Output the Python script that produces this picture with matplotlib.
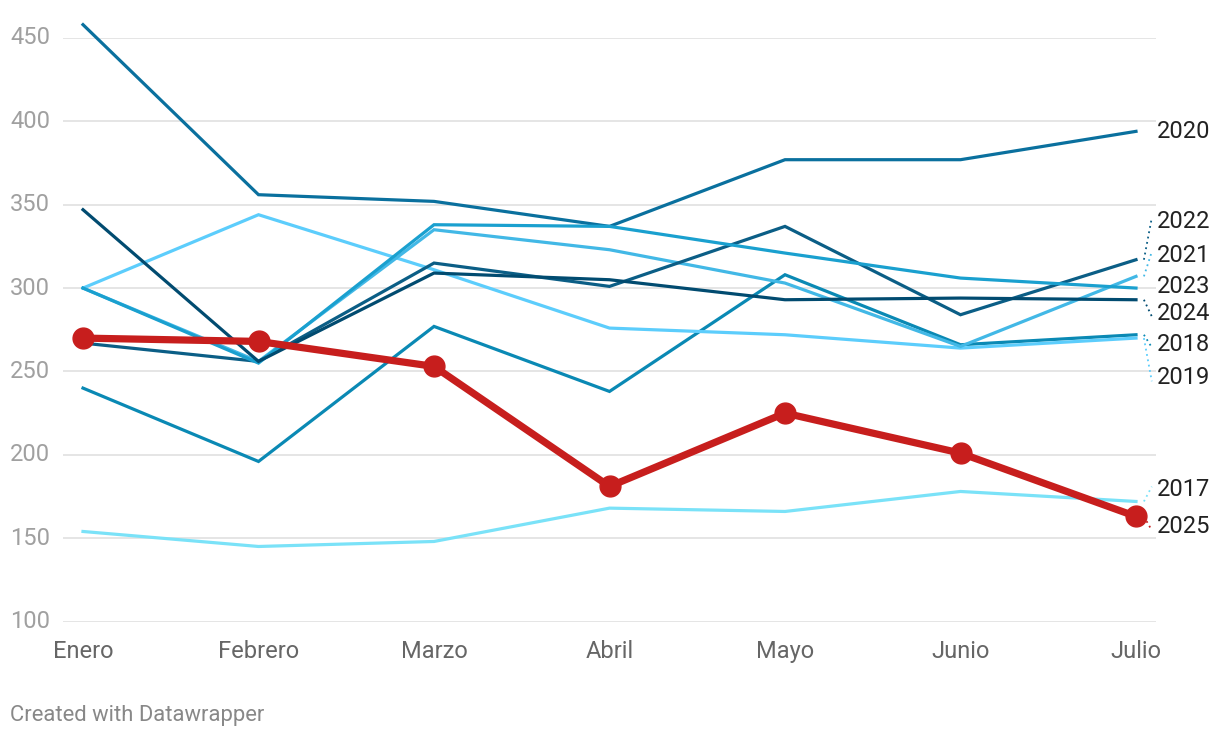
import matplotlib
matplotlib.use("Agg")
import matplotlib.pyplot as plt

# month categories and yearly series
meses = ["Enero", "Febrero", "Marzo", "Abril", "Mayo", "Junio", "Julio"]
anios = ["2017", "2018", "2019", "2020", "2021", "2022", "2023", "2024", "2025"]

v2017 = [154, 145, 148, 168, 166, 178, 172]
v2018 = [240, 196, 277, 238, 308, 266, 272]
v2019 = [300, 344, 311, 276, 272, 264, 270]
v2020 = [458, 356, 352, 337, 377, 377, 394]
v2021 = [300, 256, 335, 323, 303, 265, 307]
v2022 = [267, 256, 315, 301, 337, 284, 317]
v2023 = [300, 255, 338, 337, 321, 306, 300]
v2024 = [347, 256, 309, 305, 293, 294, 293]
v2025 = [270, 268, 253, 181, 225, 201, 163]

yticks = [100, 150, 200, 250, 300, 350, 400, 450]

series = {
    "2017": v2017, "2018": v2018, "2019": v2019, "2020": v2020,
    "2021": v2021, "2022": v2022, "2023": v2023, "2024": v2024,
    "2025": v2025,
}

colores = {
    "2017": "#7ae2f8",
    "2018": "#0a89b4",
    "2019": "#5ccdfc",
    "2020": "#0a709e",
    "2021": "#42b8e6",
    "2022": "#0b5e86",
    "2023": "#1aa0cf",
    "2024": "#014b70",
    "2025": "#c71e1d",
}

# where the end labels sit (layout, in value units)
label_y = {
    "2020": 394.2, "2022": 340.2, "2021": 319.8, "2023": 301.2,
    "2024": 285.0, "2018": 266.4, "2019": 246.1, "2017": 178.9,
    "2025": 156.7,
}

plt.rcParams["font.family"] = ["Roboto", "DejaVu Sans"]

fig = plt.figure(figsize=(12.2, 7.38), dpi=100)
ax = fig.add_axes([63 / 1220, (738 - 621.5) / 738, (1156 - 63) / 1220, 583.5 / 738])

x = list(range(len(meses)))
pad = 20 / 175.5
ax.set_xlim(-pad, len(meses) - 1 + pad)
ax.set_ylim(100, 450)

for t in yticks:
    ax.axhline(t, color="#e3e3e3", lw=1.3, zorder=0)

for anio in anios:
    vals = series[anio]
    if anio == "2025":
        ax.plot(x, vals, color=colores[anio], lw=5.2, marker="o", ms=15,
                solid_capstyle="round", zorder=5, clip_on=False)
    else:
        ax.plot(x, vals, color=colores[anio], lw=2.3, zorder=2,
                solid_joinstyle="miter", clip_on=False)

    # end label with dotted leader
    x_end = len(meses) - 1
    ly = label_y[anio]
    ax.text(x_end + pad + 0.005, ly, anio, fontsize=17, color="#222222",
            va="center", ha="left", clip_on=False)
    if abs(ly - vals[-1]) > 3:
        ax.plot([x_end + 0.045, x_end + 0.09], [vals[-1], ly + (2 if ly > vals[-1] else -2)],
                color=colores[anio], lw=1.3, ls=(0, (1, 2)), clip_on=False)

ax.set_xticks(x)
ax.set_xticklabels(meses)
ax.tick_params(axis="x", length=0, pad=13, labelsize=17, labelcolor="#666666")
ax.set_yticks([])
for sp in ax.spines.values():
    sp.set_visible(False)

for t in yticks:
    ax.text(10 / 1220, ax.transData.transform((0, t))[1] / 738, str(t),
            transform=fig.transFigure, fontsize=17, color="#a0a0a0",
            va="center", ha="left")

fig.text(10 / 1220, 1 - 715 / 738, "Created with Datawrapper", fontsize=15.8,
         color="#888888", va="center", ha="left")

fig.savefig("out.png", dpi=100)
